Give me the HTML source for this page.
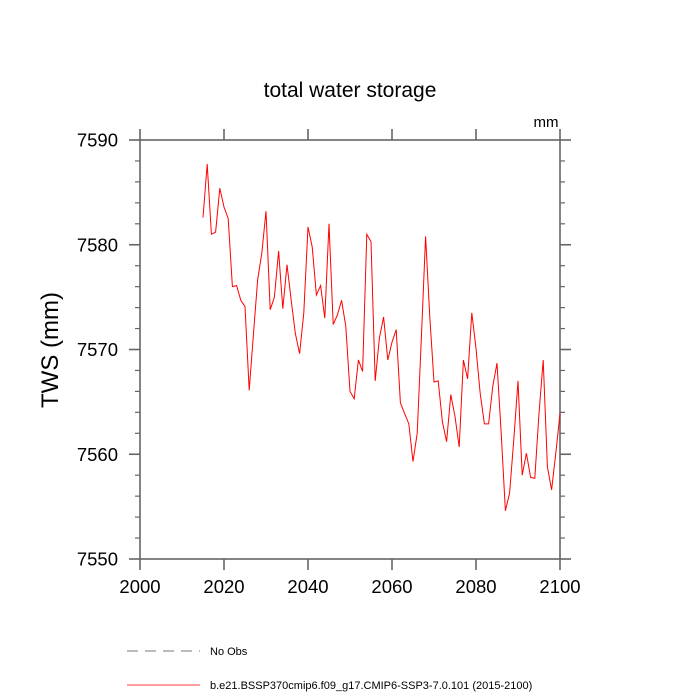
<!DOCTYPE html>
<html><head><meta charset="utf-8"><style>
body{margin:0;background:#fff;}
svg{display:block;font-family:"Liberation Sans",sans-serif;}
</style></head><body>
<svg id="chart" width="700" height="700">
<text x="350" y="97" text-anchor="middle" font-size="21">total water storage</text>
<text x="546" y="127" text-anchor="middle" font-size="15">mm</text>
<text transform="translate(58,350) rotate(-90)" text-anchor="middle" font-size="24">TWS  (mm)</text>
<g id="axes"></g>
<g id="series"></g>
<g>
<line x1="127" y1="651" x2="200" y2="651" stroke="#777" stroke-dasharray="11,7"/>
<text x="210" y="655" font-size="11">No Obs</text>
<line x1="127" y1="685" x2="200" y2="685" stroke="#f00" stroke-width="0.8"/>
<text x="210" y="689" font-size="11">b.e21.BSSP370cmip6.f09_g17.CMIP6-SSP3-7.0.101 (2015-2100)</text>
</g>
</svg>
<script>
const startYear = 2015;
const twsValues = [7582.6,7587.7,7581.0,7581.2,7585.4,7583.6,7582.5,7576.0,7576.1,7574.7,
7574.1,7566.1,7571.4,7576.6,7579.2,7583.2,7573.8,7575.0,7579.4,7573.9,
7578.1,7574.7,7571.5,7569.6,7573.5,7581.7,7579.8,7575.2,7576.1,7573.0,
7582.0,7572.4,7573.3,7574.7,7572.2,7566.0,7565.3,7569.0,7567.9,7581.0,
7580.3,7567.0,7571.1,7573.1,7569.0,7570.7,7571.9,7564.9,7563.9,7562.9,
7559.3,7562.0,7571.2,7580.8,7573.1,7566.9,7567.0,7563.1,7561.2,7565.7,
7563.6,7560.7,7569.0,7567.2,7573.5,7570.1,7565.8,7562.9,7562.9,7566.5,
7568.7,7562.0,7554.6,7556.3,7561.4,7567.0,7558.0,7560.1,7557.8,7557.7,
7563.9,7569.0,7558.8,7556.6,7560.1,7563.9];
const xTicks = [2000,2020,2040,2060,2080,2100];
const yTicks = [7550,7560,7570,7580,7590];
const NS='http://www.w3.org/2000/svg';
const L=140,R=560,T=140,B=559;
const xs=v=>L+(v-2000)/100*(R-L);
const ys=v=>B-(v-7550)/40*(B-T);
const axes=document.getElementById('axes');
function mk(tag,attrs,parent){const e=document.createElementNS(NS,tag);for(const k in attrs)e.setAttribute(k,attrs[k]);parent.appendChild(e);return e;}
const col='#666';
const frame=mk('rect',{x:L,y:T,width:R-L,height:B-T,fill:'none',stroke:col,'stroke-width':1.6},axes);


xTicks.forEach(v=>{
  const x=xs(v);
  const t1=mk('line',{x1:x,y1:B,x2:x,y2:B+11,stroke:col,'stroke-width':1.6},axes);
  
  
  const t2=mk('line',{x1:x,y1:T,x2:x,y2:T-11,stroke:col,'stroke-width':1.6},axes);
  
  
  const lb=mk('text',{x:x,y:B+34,'text-anchor':'middle','font-size':18.5},axes);
  lb.textContent=v;
  
  
});
for(let v=7550;v<=7590;v+=2){
  const y=ys(v);const major=(v%10===0);const len=major?11:5;
  const a=mk('line',{x1:L,y1:y,x2:L-len,y2:y,stroke:col,'stroke-width':major?1.6:1.2},axes);
  
  
  const b=mk('line',{x1:R,y1:y,x2:R+len,y2:y,stroke:col,'stroke-width':major?1.6:1.2},axes);
  
  
}
yTicks.forEach(v=>{
  const lb=mk('text',{x:L-22,y:ys(v)+6.5,'text-anchor':'end','font-size':18.5},axes);
  lb.textContent=v;
  
  
});
const pts=twsValues.map((v,i)=>xs(startYear+i).toFixed(2)+','+ys(v).toFixed(2)).join(' ');
const line=mk('polyline',{points:pts,fill:'none',stroke:'#f00','stroke-width':1},document.getElementById('series'));


</script>
</body></html>
